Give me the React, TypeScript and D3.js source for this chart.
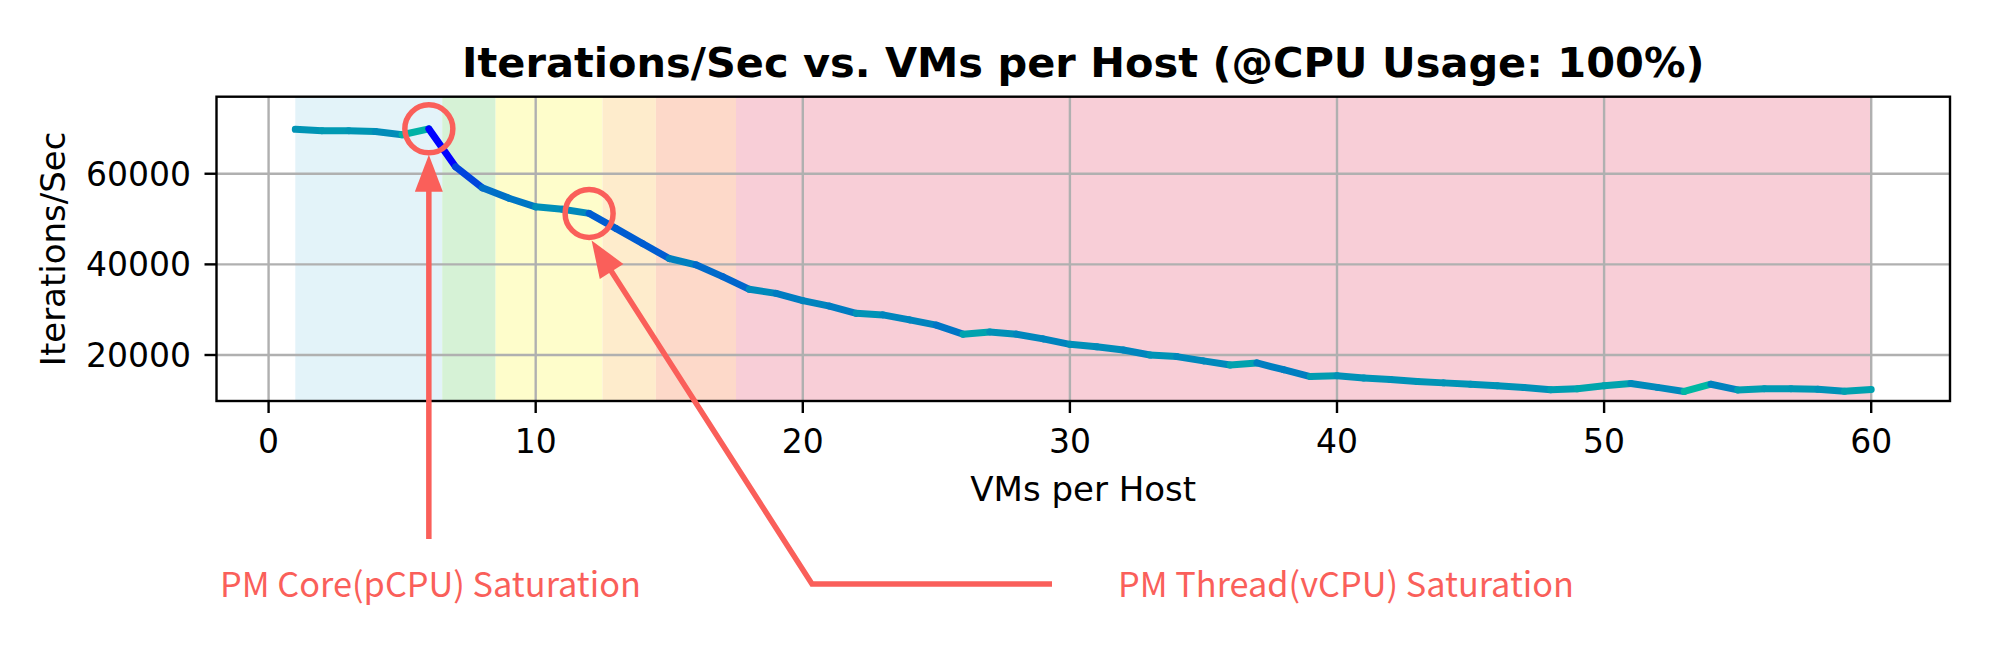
import { useEffect, useRef } from "react";
import * as d3 from "d3";

// VMs per host (x) and measured iterations/sec (y)
const vmsPerHost = [
  1, 2, 3, 4, 5, 6, 7, 8, 9, 10, 11, 12, 13, 14, 15, 16, 17, 18, 19, 20,
  21, 22, 23, 24, 25, 26, 27, 28, 29, 30, 31, 32, 33, 34, 35, 36, 37, 38, 39, 40,
  41, 42, 43, 44, 45, 46, 47, 48, 49, 50, 51, 52, 53, 54, 55, 56, 57, 58, 59, 60,
];
const iterationsPerSec = [
  69800, 69500, 69500, 69300, 68600, 69900, 61550, 56900, 54600, 52700,
  52150, 51250, 47950, 44600, 41300, 39900, 37300, 34500, 33600, 32000,
  30800, 29200, 28850, 27750, 26600, 24600, 25100, 24600, 23550, 22350,
  21800, 21100, 20000, 19650, 18700, 17800, 18250, 16750, 15250, 15400,
  14950, 14600, 14150, 13850, 13550, 13200, 12850, 12350, 12550, 13200,
  13700, 12850, 11950, 13550, 12300, 12550, 12550, 12450, 12000, 12400,
];

const xTicks = [0, 10, 20, 30, 40, 50, 60];
const yTicks = [20000, 40000, 60000];

// background zones (axvspan)
const zoneStarts = [1, 6.5, 8.5, 12.5, 14.5, 17.5];
const zoneEnds = [6.5, 8.5, 12.5, 14.5, 17.5, 60];
const zoneColors = ["#e3f3f9", "#d6f2d6", "#fefdcb", "#feeccc", "#fdd9c9", "#f8ced7"];

// saturation points
const markedVMs = [6, 12];
const markLabels = ["PM Core(pCPU) Saturation", "PM Thread(vCPU) Saturation"];

const titleText = "Iterations/Sec vs. VMs per Host (@CPU Usage: 100%)";
const xLabel = "VMs per Host";
const yLabel = "Iterations/Sec";

const W = 1999;
const H = 647;
const plot = { left: 216.5, right: 1950, top: 96.7, bottom: 401 };
const accent = "#fa5f5a";
const font = "'DejaVu Sans', sans-serif";

export default function App() {
  const ref = useRef<SVGSVGElement>(null);

  useEffect(() => {
    const svg = d3.select(ref.current);
    svg.selectAll("*").remove();

    const x = d3.scaleLinear().domain([-1.95, 62.95]).range([plot.left, plot.right]);
    const y = d3.scaleLinear().domain([9850, 77000]).range([plot.bottom, plot.top]);

    //zones
    svg
      .append("g")
      .selectAll("rect")
      .data(zoneStarts)
      .join("rect")
      .attr("x", (d) => x(d))
      .attr("y", plot.top)
      .attr("width", (d, i) => x(zoneEnds[i]) - x(d))
      .attr("height", plot.bottom - plot.top)
      .attr("fill", (d, i) => zoneColors[i]);

    //grid
    const grid = svg.append("g").attr("stroke", "#b0b0b0").attr("stroke-width", 2.4);
    xTicks.forEach((t) => {
      grid.append("line").attr("x1", x(t)).attr("x2", x(t)).attr("y1", plot.top).attr("y2", plot.bottom);
    });
    yTicks.forEach((t) => {
      grid.append("line").attr("x1", plot.left).attr("x2", plot.right).attr("y1", y(t)).attr("y2", y(t));
    });

    //line coloured by slope (winter-like colormap)
    const slopeT = d3.scaleLinear().domain([-8400, 0, 1600]).range([0, 0.6, 0.72]).clamp(true);
    const segs = d3.pairs(d3.zip(vmsPerHost, iterationsPerSec));
    svg
      .append("g")
      .selectAll("line")
      .data(segs)
      .join("line")
      .attr("x1", (d) => x(d[0][0]))
      .attr("y1", (d) => y(d[0][1]))
      .attr("x2", (d) => x(d[1][0]))
      .attr("y2", (d) => y(d[1][1]))
      .attr("stroke-width", 7)
      .attr("stroke-linecap", "round")
      .attr("stroke", (d) => {
        const t = slopeT(d[1][1] - d[0][1]);
        return d3.rgb(0, 255 * t, 255 * (1 - 0.5 * t)).toString();
      });

    //spines
    svg
      .append("rect")
      .attr("x", plot.left)
      .attr("y", plot.top)
      .attr("width", plot.right - plot.left)
      .attr("height", plot.bottom - plot.top)
      .attr("fill", "none")
      .attr("stroke", "#000")
      .attr("stroke-width", 2.4);

    //ticks + labels
    const ax = svg.append("g").attr("font-family", font).attr("font-size", 33).attr("fill", "#000");
    xTicks.forEach((t) => {
      ax.append("line").attr("x1", x(t)).attr("x2", x(t)).attr("y1", plot.bottom).attr("y2", plot.bottom + 12).attr("stroke", "#000").attr("stroke-width", 2.4);
      ax.append("text").attr("x", x(t)).attr("y", 453).attr("text-anchor", "middle").text(t);
    });
    yTicks.forEach((t) => {
      ax.append("line").attr("x1", plot.left).attr("x2", plot.left - 12).attr("y1", y(t)).attr("y2", y(t)).attr("stroke", "#000").attr("stroke-width", 2.4);
      ax.append("text").attr("x", 191).attr("y", y(t) + 12).attr("text-anchor", "end").text(t);
    });
    ax.append("text")
      .attr("x", (plot.left + plot.right) / 2)
      .attr("y", 501)
      .attr("text-anchor", "middle")
      .attr("font-size", 34)
      .text(xLabel);
    ax.append("text")
      .attr("transform", `translate(65,${(plot.top + plot.bottom) / 2}) rotate(-90)`)
      .attr("text-anchor", "middle")
      .attr("font-size", 34)
      .text(yLabel);

    //title
    svg
      .append("text")
      .attr("x", (plot.left + plot.right) / 2)
      .attr("y", 77)
      .attr("text-anchor", "middle")
      .attr("font-family", font)
      .attr("font-weight", "bold")
      .attr("font-size", 41.5)
      .text(titleText);

    //annotations
    const ann = svg.append("g").attr("stroke", accent).attr("fill", "none");
    const pts = markedVMs.map((v) => {
      const i = vmsPerHost.indexOf(v);
      return [x(v), y(iterationsPerSec[i])];
    });
    pts.forEach(([cx, cy]) => {
      ann.append("circle").attr("cx", cx).attr("cy", cy).attr("r", 24).attr("stroke-width", 5.5);
    });

    const head = (tip: number[], tail: number[]) => {
      const dx = tail[0] - tip[0];
      const dy = tail[1] - tip[1];
      const len = Math.hypot(dx, dy);
      const ux = dx / len;
      const uy = dy / len;
      const bx = tip[0] + ux * 37;
      const by = tip[1] + uy * 37;
      return [
        [tip[0], tip[1]],
        [bx - uy * 14, by + ux * 14],
        [bx + uy * 14, by - ux * 14],
      ];
    };

    // arrow 1 : straight up
    const tip1 = [pts[0][0], pts[0][1] + 26];
    const tail1 = [pts[0][0], 539];
    ann.append("line").attr("x1", tail1[0]).attr("y1", tail1[1]).attr("x2", tip1[0]).attr("y2", tip1[1] + 30).attr("stroke-width", 5.5);
    ann.append("polygon").attr("points", head(tip1, tail1).join(" ")).attr("fill", accent).attr("stroke", "none");

    // arrow 2 : elbow
    const tip2 = [pts[1][0] + 2.5, pts[1][1] + 27];
    const elbow = [812, 584];
    const end2 = [1052, 584];
    const h2 = head(tip2, elbow);
    const len2 = Math.hypot(elbow[0] - tip2[0], elbow[1] - tip2[1]);
    const ux = (elbow[0] - tip2[0]) / len2;
    const uy = (elbow[1] - tip2[1]) / len2;
    ann
      .append("polyline")
      .attr("points", [[tip2[0] + ux * 30, tip2[1] + uy * 30], elbow, end2].join(" "))
      .attr("stroke-width", 5.5)
      .attr("stroke-linejoin", "miter");
    ann.append("polygon").attr("points", h2.join(" ")).attr("fill", accent).attr("stroke", "none");

    const labelX = [220, 1118];
    const labelW = [421, 456];
    svg
      .append("g")
      .selectAll("text")
      .data(markLabels)
      .join("text")
      .attr("x", (d, i) => labelX[i])
      .attr("y", 597)
      .attr("font-family", "'Noto Sans CJK KR', 'Noto Sans', sans-serif")
      .attr("font-size", 34)
      .attr("fill", accent)
      .attr("textLength", (d, i) => labelW[i])
      .attr("lengthAdjust", "spacingAndGlyphs")
      .text((d) => d);
  }, []);

  return (
    <div style={{ position: "fixed", left: 0, top: 0 }}>
      <svg ref={ref} width={W} height={H} style={{ display: "block", background: "#fff" }} />
    </div>
  );
}
